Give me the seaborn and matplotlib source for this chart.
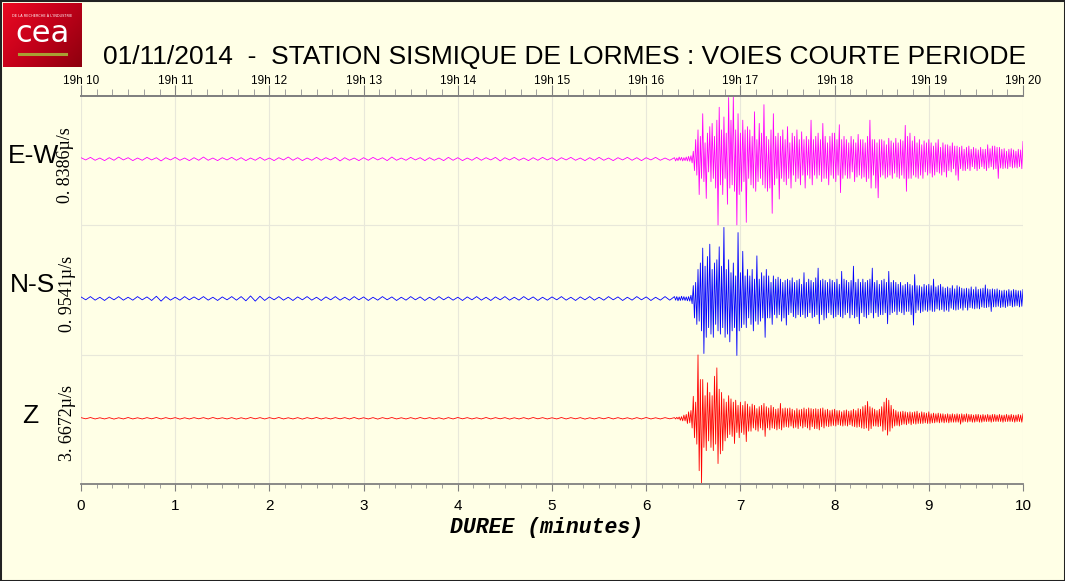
import numpy as np
import matplotlib
matplotlib.use("Agg")
import matplotlib.pyplot as plt
from matplotlib.ticker import MultipleLocator
from matplotlib.patches import Rectangle
from matplotlib.colors import LinearSegmentedColormap
import seaborn as sns

# --- donnees (amplitudes relatives a la demi-hauteur de chaque voie) ---
t_quiet = np.round(np.arange(0.0, 6.26, 0.05), 3)       # 0.00 .. 6.25 min
t_event = np.round(np.arange(6.3, 10.0001, 0.0125), 4)  # 6.30 .. 10.00 min

ew_quiet = [0.02, -0.015, 0.025, -0.02, 0.015, -0.025, 0.02, -0.02, 0.03, -0.015,
            0.02, -0.025, 0.015, -0.02, 0.025, -0.015, 0.02, -0.03, 0.02, -0.015,
            0.025, -0.02, 0.015, -0.025, 0.02, -0.02, 0.03, -0.02, 0.015, -0.025,
            0.02, -0.015, 0.025, -0.02, 0.02, -0.025, 0.015, -0.02, 0.025, -0.02,
            0.015, -0.025, 0.02, -0.015, 0.03, -0.02, 0.02, -0.025, 0.015, -0.02,
            0.025, -0.02, 0.02, -0.015, 0.025, -0.03, 0.02, -0.02, 0.015, -0.025,
            0.02, -0.02, 0.025, -0.015, 0.02, -0.025, 0.03, -0.02, 0.015, -0.02,
            0.025, -0.015, 0.02, -0.025, 0.02, -0.02, 0.015, -0.025, 0.025, -0.02,
            0.02, -0.025, 0.015, -0.02, 0.025, -0.02, 0.02, -0.015, 0.025, -0.03,
            0.02, -0.015, 0.025, -0.02, 0.015, -0.025, 0.02, -0.02, 0.025, -0.015,
            0.02, -0.025, 0.02, -0.015, 0.025, -0.02, 0.015, -0.025, 0.02, -0.02,
            0.025, -0.02, 0.015, -0.025, 0.02, -0.015, 0.025, -0.02, 0.02, -0.025,
            0.02, -0.015, 0.025, -0.02, 0.015, -0.02]
ew_event = [0.02, -0.03, 0.015, -0.025, 0.03, -0.02, 0.025, -0.03,
            0.02, -0.025, 0.03, -0.03, 0.04, -0.035, 0.05, -0.06,
            0.12, -0.18, 0.30, -0.25, 0.45, -0.55, 0.35, -0.30,
            0.70, -0.35, 0.25, -0.61, 0.40, -0.20, 0.50, -0.35,
            0.55, -0.30, 0.35, -0.45, 0.60, -1.02, 0.80, -0.40,
            0.45, -0.55, 0.65, -0.30, 0.40, -0.70, 0.95, -0.45,
            0.60, -0.40, 0.97, -0.50, 0.45, -1.02, 0.70, -0.55,
            0.40, -0.50, 0.60, -0.35, 0.45, -0.98, 0.50, -0.30,
            0.45, -0.40, 0.35, -0.45, 0.73, -0.50, 0.30, -0.35,
            0.55, -0.30, 0.40, -0.40, 0.84, -0.45, 0.35, -0.50,
            0.30, -0.45, 0.45, -0.84, 0.70, -0.40, 0.35, -0.30,
            0.40, -0.62, 0.35, -0.30, 0.45, -0.35, 0.30, -0.40,
            0.50, -0.30, 0.25, -0.45, 0.40, -0.25, 0.35, -0.35,
            0.45, -0.30, 0.30, -0.40, 0.42, -0.25, 0.30, -0.45,
            0.35, -0.25, 0.30, -0.30, 0.60, -0.40, 0.30, -0.25,
            0.35, -0.30, 0.40, -0.25, 0.30, -0.35, 0.55, -0.30,
            0.35, -0.30, 0.25, -0.40, 0.35, -0.25, 0.40, -0.30,
            0.40, -0.35, 0.30, -0.25, 0.53, -0.52, 0.30, -0.30,
            0.35, -0.25, 0.30, -0.30, 0.25, -0.30, 0.35, -0.20,
            0.30, -0.35, 0.25, -0.28, 0.38, -0.25, 0.30, -0.30,
            0.30, -0.28, 0.25, -0.35, 0.35, -0.30, 0.60, -0.45,
            0.30, -0.25, 0.30, -0.45, 0.25, -0.60, 0.30, -0.28,
            0.30, -0.25, 0.28, -0.30, 0.22, -0.28, 0.32, -0.25,
            0.28, -0.30, 0.25, -0.22, 0.32, -0.28, 0.25, -0.30,
            0.30, -0.25, 0.28, -0.30, 0.52, -0.50, 0.35, -0.30,
            0.40, -0.30, 0.28, -0.25, 0.35, -0.28, 0.25, -0.30,
            0.30, -0.25, 0.22, -0.30, 0.28, -0.20, 0.25, -0.25,
            0.30, -0.22, 0.25, -0.28, 0.20, -0.25, 0.25, -0.20,
            0.30, -0.22, 0.18, -0.25, 0.25, -0.20, 0.22, -0.28,
            0.22, -0.18, 0.20, -0.20, 0.25, -0.15, 0.20, -0.25,
            0.20, -0.33, 0.18, -0.15, 0.20, -0.18, 0.15, -0.18,
            0.18, -0.15, 0.20, -0.18, 0.15, -0.12, 0.18, -0.15,
            0.16, -0.18, 0.14, -0.15, 0.18, -0.12, 0.15, -0.15,
            0.15, -0.18, 0.22, -0.14, 0.16, -0.12, 0.20, -0.16,
            0.20, -0.15, 0.18, -0.30, 0.18, -0.14, 0.15, -0.15,
            0.16, -0.14, 0.12, -0.15, 0.15, -0.12, 0.16, -0.14,
            0.14, -0.13, 0.12, -0.14, 0.15, -0.12, 0.14, -0.15,
            0.27]

ns_quiet = [0.025, -0.02, 0.03, -0.025, 0.02, -0.03, 0.025, -0.02, 0.03, -0.025,
            0.02, -0.025, 0.03, -0.02, 0.025, -0.03, 0.035, -0.04, 0.03, -0.025,
            0.02, -0.025, 0.03, -0.02, 0.025, -0.02, 0.03, -0.025, 0.02, -0.03,
            0.025, -0.02, 0.03, -0.025, 0.03, -0.035, 0.04, -0.04, 0.035, -0.03,
            0.025, -0.02, 0.03, -0.025, 0.02, -0.03, 0.025, -0.02, 0.03, -0.025,
            0.02, -0.03, 0.025, -0.02, 0.03, -0.025, 0.02, -0.025, 0.03, -0.02,
            0.025, -0.03, 0.02, -0.025, 0.03, -0.02, 0.025, -0.03, 0.02, -0.025,
            0.03, -0.02, 0.025, -0.03, 0.02, -0.025, 0.03, -0.02, 0.025, -0.025,
            0.02, -0.03, 0.025, -0.02, 0.03, -0.025, 0.02, -0.03, 0.025, -0.02,
            0.03, -0.025, 0.02, -0.025, 0.03, -0.02, 0.025, -0.03, 0.02, -0.025,
            0.025, -0.02, 0.03, -0.025, 0.02, -0.03, 0.025, -0.02, 0.03, -0.025,
            0.02, -0.025, 0.03, -0.02, 0.025, -0.03, 0.02, -0.025, 0.03, -0.02,
            0.025, -0.03, 0.02, -0.025, 0.03, -0.025]
ns_event = [0.03, -0.025, 0.03, -0.035, 0.025, -0.03, 0.035, -0.025,
            0.03, -0.03, 0.025, -0.035, 0.03, -0.04, 0.05, -0.08,
            0.20, -0.30, 0.25, -0.40, 0.45, -0.35, 0.55, -0.50,
            0.78, -0.85, 0.50, -0.60, 0.65, -0.45, 0.84, -0.55,
            0.45, -0.60, 0.55, -0.40, 0.60, -0.50, 0.80, -0.55,
            0.50, -0.45, 1.10, -0.60, 0.45, -0.55, 0.60, -0.67,
            0.40, -0.50, 0.55, -0.45, 0.35, -0.88, 1.02, -0.50,
            0.40, -0.45, 0.73, -0.40, 0.35, -0.45, 0.45, -0.30,
            0.35, -0.40, 0.45, -0.50, 0.30, -0.35, 0.66, -0.40,
            0.30, -0.35, 0.40, -0.30, 0.35, -0.60, 0.45, -0.30,
            0.35, -0.30, 0.25, -0.40, 0.35, -0.25, 0.30, -0.30,
            0.33, -0.25, 0.30, -0.35, 0.25, -0.30, 0.28, -0.41,
            0.30, -0.25, 0.28, -0.22, 0.32, -0.28, 0.25, -0.30,
            0.28, -0.25, 0.30, -0.28, 0.22, -0.25, 0.40, -0.30,
            0.25, -0.28, 0.30, -0.22, 0.28, -0.30, 0.25, -0.28,
            0.32, -0.25, 0.47, -0.39, 0.28, -0.25, 0.30, -0.33,
            0.28, -0.30, 0.25, -0.22, 0.30, -0.25, 0.28, -0.30,
            0.25, -0.28, 0.30, -0.25, 0.22, -0.28, 0.42, -0.30,
            0.30, -0.25, 0.28, -0.22, 0.25, -0.30, 0.28, -0.25,
            0.50, -0.30, 0.25, -0.28, 0.30, -0.39, 0.25, -0.22,
            0.30, -0.28, 0.25, -0.30, 0.28, -0.25, 0.30, -0.22,
            0.47, -0.30, 0.25, -0.22, 0.28, -0.28, 0.22, -0.25,
            0.28, -0.25, 0.30, -0.22, 0.25, -0.39, 0.42, -0.25,
            0.25, -0.22, 0.28, -0.20, 0.25, -0.25, 0.22, -0.20,
            0.25, -0.22, 0.20, -0.25, 0.22, -0.20, 0.25, -0.20,
            0.22, -0.25, 0.20, -0.41, 0.37, -0.22, 0.20, -0.18,
            0.20, -0.22, 0.18, -0.20, 0.22, -0.18, 0.20, -0.20,
            0.22, -0.18, 0.20, -0.20, 0.30, -0.20, 0.18, -0.16,
            0.20, -0.18, 0.22, -0.17, 0.18, -0.20, 0.16, -0.18,
            0.18, -0.20, 0.16, -0.15, 0.20, -0.17, 0.15, -0.18,
            0.20, -0.17, 0.18, -0.15, 0.16, -0.18, 0.15, -0.14,
            0.16, -0.18, 0.15, -0.14, 0.18, -0.15, 0.14, -0.16,
            0.18, -0.15, 0.14, -0.16, 0.15, -0.13, 0.16, -0.14,
            0.21, -0.14, 0.15, -0.13, 0.14, -0.20, 0.15, -0.13,
            0.14, -0.13, 0.15, -0.12, 0.13, -0.14, 0.12, -0.13,
            0.13, -0.14, 0.12, -0.12, 0.14, -0.11, 0.12, -0.13,
            0.14, -0.12, 0.13, -0.11, 0.12, -0.13, 0.12, -0.12,
            0.14]

z_quiet = [0.01, -0.008, 0.012, -0.01, 0.008, -0.01, 0.01, -0.012, 0.008, -0.01,
           0.012, -0.01, 0.008, -0.01, 0.01, -0.008, 0.012, -0.01, 0.01, -0.008,
           0.01, -0.012, 0.008, -0.01, 0.01, -0.008, 0.01, -0.01, 0.012, -0.008,
           0.008, -0.01, 0.01, -0.012, 0.008, -0.01, 0.012, -0.008, 0.01, -0.01,
           0.01, -0.008, 0.012, -0.01, 0.008, -0.01, 0.01, -0.012, 0.01, -0.008,
           0.012, -0.01, 0.008, -0.01, 0.01, -0.008, 0.01, -0.01, 0.012, -0.01,
           0.008, -0.01, 0.01, -0.012, 0.01, -0.008, 0.012, -0.01, 0.008, -0.01,
           0.01, -0.01, 0.012, -0.008, 0.01, -0.01, 0.008, -0.012, 0.01, -0.01,
           0.012, -0.008, 0.01, -0.01, 0.008, -0.01, 0.012, -0.01, 0.01, -0.008,
           0.01, -0.012, 0.008, -0.01, 0.01, -0.01, 0.012, -0.008, 0.01, -0.01,
           0.008, -0.01, 0.012, -0.01, 0.01, -0.008, 0.01, -0.012, 0.008, -0.01,
           0.01, -0.008, 0.012, -0.01, 0.01, -0.01, 0.008, -0.012, 0.01, -0.01,
           0.012, -0.01, 0.008, -0.01, 0.01, -0.008]
z_event = [0.01, -0.01, 0.015, -0.01, 0.02, -0.03, 0.025, -0.04,
           0.05, -0.04, 0.06, -0.08, 0.10, -0.07, 0.12, -0.15,
           0.34, -0.30, 0.25, -0.40, 0.98, -0.81, 0.60, -1.00,
           0.60, -0.45, 0.35, -0.50, 0.55, -0.35, 0.40, -0.45,
           0.35, -0.50, 0.65, -0.40, 0.78, -0.70, 0.45, -0.55,
           0.40, -0.50, 0.30, -0.35, 0.25, -0.30, 0.35, -0.25,
           0.30, -0.28, 0.25, -0.39, 0.28, -0.22, 0.20, -0.30,
           0.25, -0.22, 0.20, -0.25, 0.26, -0.36, 0.22, -0.20,
           0.18, -0.20, 0.22, -0.15, 0.20, -0.18, 0.15, -0.20,
           0.18, -0.15, 0.20, -0.18, 0.23, -0.28, 0.18, -0.15,
           0.16, -0.18, 0.20, -0.15, 0.17, -0.16, 0.14, -0.18,
           0.15, -0.16, 0.23, -0.18, 0.15, -0.14, 0.16, -0.13,
           0.15, -0.14, 0.16, -0.12, 0.14, -0.15, 0.12, -0.14,
           0.15, -0.16, 0.13, -0.12, 0.14, -0.15, 0.16, -0.13,
           0.14, -0.15, 0.16, -0.18, 0.15, -0.13, 0.14, -0.16,
           0.15, -0.16, 0.14, -0.18, 0.15, -0.13, 0.16, -0.15,
           0.13, -0.12, 0.14, -0.13, 0.12, -0.12, 0.13, -0.11,
           0.14, -0.12, 0.12, -0.10, 0.12, -0.11, 0.10, -0.12,
           0.12, -0.11, 0.13, -0.12, 0.11, -0.10, 0.12, -0.12,
           0.14, -0.13, 0.12, -0.14, 0.15, -0.13, 0.14, -0.15,
           0.18, -0.16, 0.20, -0.15, 0.26, -0.19, 0.18, -0.16,
           0.16, -0.12, 0.14, -0.12, 0.12, -0.13, 0.14, -0.12,
           0.18, -0.20, 0.25, -0.18, 0.31, -0.26, 0.28, -0.20,
           0.20, -0.15, 0.14, -0.12, 0.12, -0.11, 0.10, -0.12,
           0.10, -0.10, 0.11, -0.09, 0.10, -0.10, 0.09, -0.08,
           0.10, -0.10, 0.09, -0.08, 0.10, -0.09, 0.11, -0.08,
           0.08, -0.08, 0.10, -0.08, 0.09, -0.07, 0.08, -0.08,
           0.10, -0.08, 0.07, -0.07, 0.08, -0.07, 0.07, -0.06,
           0.08, -0.07, 0.07, -0.06, 0.07, -0.07, 0.06, -0.06,
           0.07, -0.07, 0.06, -0.06, 0.07, -0.06, 0.06, -0.06,
           0.07, -0.06, 0.06, -0.09, 0.07, -0.06, 0.06, -0.05,
           0.07, -0.06, 0.06, -0.05, 0.06, -0.06, 0.05, -0.06,
           0.06, -0.05, 0.06, -0.06, 0.05, -0.06, 0.06, -0.05,
           0.05, -0.05, 0.06, -0.05, 0.05, -0.06, 0.06, -0.05,
           0.06, -0.05, 0.05, -0.05, 0.06, -0.05, 0.05, -0.06,
           0.05, -0.05, 0.06, -0.05, 0.05, -0.05, 0.06, -0.05,
           0.05, -0.06, 0.05, -0.05, 0.06, -0.05, 0.05, -0.06,
           0.07]

voies = ["E-W", "N-S", "Z"]
echelles = ["0. 8386\u00b5/s", "0. 9541\u00b5/s", "3. 6672\u00b5/s"]
heures = ["19h 10", "19h 11", "19h 12", "19h 13", "19h 14", "19h 15",
          "19h 16", "19h 17", "19h 18", "19h 19", "19h 20"]
minutes = [0, 1, 2, 3, 4, 5, 6, 7, 8, 9, 10]

# --- mise en page ---
fond = "#FFFFE6"
W, H = 1065, 581
base = {"E-W": 2.513, "N-S": 1.434, "Z": 0.508}   # ligne de base de chaque voie
couleurs = {"E-W": "#FF00FF", "N-S": "#0000FF", "Z": "#FF0000"}
traces = {"E-W": (ew_quiet, ew_event), "N-S": (ns_quiet, ns_event), "Z": (z_quiet, z_event)}

fig = plt.figure(figsize=(W / 100, H / 100), dpi=100, facecolor=fond)
ax = fig.add_axes([81 / W, 1 - 484 / H, (1023 - 81) / W, 388 / H])
ax.set_facecolor(fond)

t_all = np.concatenate([t_quiet, t_event])
for v in voies:
    q, e = traces[v]
    y = base[v] + 0.5 * np.concatenate([q, e])
    sns.lineplot(x=t_all, y=y, ax=ax, color=couleurs[v], linewidth=0.6,
                 estimator=None, sort=False)

ax.set_xlim(0, 10)
ax.set_ylim(0, 3)
ax.set_yticks([])
for m in minutes:
    ax.axvline(m, color="#E8E8DA", lw=0.8, zorder=0)
for s in [1, 2]:
    ax.axhline(s, color="#E8E8DA", lw=0.8, zorder=0)

for side in ["left", "right"]:
    ax.spines[side].set_visible(False)
for side in ["top", "bottom"]:
    ax.spines[side].set_color("#808080")
    ax.spines[side].set_linewidth(1.3)

ax.set_xticks(minutes)
ax.set_xticklabels([str(m) for m in minutes], fontsize=11, family="Liberation Sans")
ax.xaxis.set_minor_locator(MultipleLocator(1 / 6))
ax.tick_params(axis="x", which="major", direction="out", length=5, color="#808080", pad=6)
ax.tick_params(axis="x", which="minor", direction="out", length=3, color="#909090")

sec = ax.secondary_xaxis("top")
sec.set_xticks(minutes)
sec.set_xticklabels(heures, fontsize=8.5, family="Liberation Sans")
sec.xaxis.set_minor_locator(MultipleLocator(1 / 6))
sec.tick_params(axis="x", which="major", direction="out", length=8, color="#808080", pad=-1.5)
sec.tick_params(axis="x", which="minor", direction="out", length=5, color="#909090")
sec.spines["top"].set_color("#808080")
sec.spines["top"].set_linewidth(1.3)

# textes
fig.text(565 / W, 1 - 64 / H,
         "01/11/2014  -  STATION SISMIQUE DE LORMES : VOIES COURTE PERIODE",
         ha="center", va="baseline", fontsize=19, family="Liberation Sans")
fig.text(547 / W, 1 - 533 / H, "DUREE (minutes)", ha="center", va="baseline",
         fontsize=15.5, family="Liberation Mono", weight="bold", style="italic")

lab_pos = {"E-W": (34, 156), "N-S": (32, 285), "Z": (30, 416)}
ech_pos = {"E-W": (66, 165), "N-S": (67, 294), "Z": (67, 423)}
for v, ech in zip(voies, echelles):
    x, y = lab_pos[v]
    fig.text(x / W, 1 - y / H, v, ha="center", va="center", fontsize=19,
             family="Liberation Sans")
    x, y = ech_pos[v]
    fig.text(x / W, 1 - y / H, ech, ha="center", va="center", rotation=90,
             fontsize=13, family="Liberation Serif")

# logo
lax = fig.add_axes([3 / W, 1 - 67 / H, 79 / W, 64 / H])
gx, gy = np.meshgrid(np.linspace(0, 1, 80), np.linspace(0, 1, 64))
cmap = LinearSegmentedColormap.from_list("cea", ["#EA0A22", "#C2001A", "#8E000E"])
lax.imshow(gx * 0.6 + gy * 0.4, cmap=cmap, aspect="auto", extent=[0, 1, 0, 1])
lax.text(0.5, 0.52, "cea", color="white", ha="center", va="center", fontsize=22,
         family="DejaVu Sans")
lax.plot([0.2, 0.8], [0.2, 0.2], color="#A8A033", lw=2.2)
lax.text(0.5, 0.8, "DE LA RECHERCHE \u00c0 L'INDUSTRIE", color="white", ha="center",
         va="center", fontsize=2.5)
lax.set_xlim(0, 1)
lax.set_ylim(0, 1)
lax.axis("off")

# cadre
fig.patches.append(Rectangle((0, 0), 1, 1, transform=fig.transFigure, fill=False,
                             lw=2.2, ec="#222222"))

fig.savefig("out.png", dpi=100, facecolor=fond)
